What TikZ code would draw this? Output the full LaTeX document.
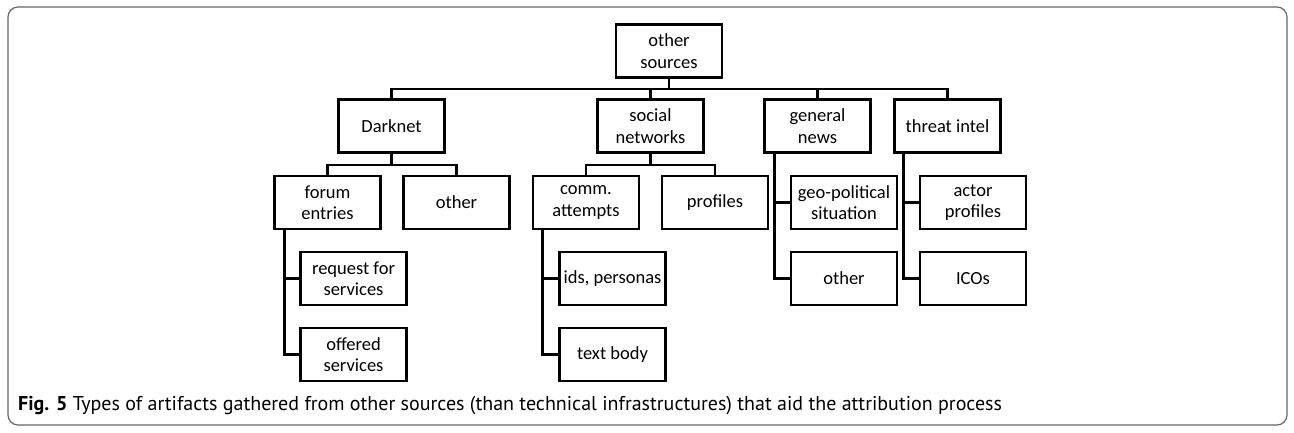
\documentclass[tikz,border=0pt]{standalone}
\usepackage{fontspec}
\setmainfont{Carlito}
\newfontfamily\capfont{PT Sans}
\usetikzlibrary{calc}
\begin{document}
\begin{tikzpicture}[x=1pt,y=-1pt,
  box/.style={draw=black,line width=2.6pt,minimum width=106pt,minimum height=53pt,inner sep=0pt,align=center,font=\fontsize{18.5}{21.5}\selectfont},
  con/.style={draw=black,line width=2.6pt}]
\useasboundingbox (0,0) rectangle (1294,432);
\draw[rounded corners=10pt,draw=black!60,line width=1.2pt] (8,7) rectangle (1287,425);
% nodes
\node[box] (root) at (669,51) {other\\sources};
\node[box] (dark) at (391.5,126) {Darknet};
\node[box] (soc) at (650.5,126) {social\\networks};
\node[box] (gen) at (817.5,126) {general\\news};
\node[box] (thr) at (947.5,126) {threat intel};
\node[box] (forum) at (327.5,202.5) {forum\\entries};
\node[box] (dother) at (456.5,202.5) {other};
\node[box] (comm) at (586,202.5) {comm.\\attempts};
\node[box] (prof) at (715,202.5) {profiles};
\node[box] (geo) at (844,202.5) {geo-political\\situation};
\node[box] (gother) at (844,278.5) {other};
\node[box] (actor) at (973,202.5) {actor\\profiles};
\node[box] (icos) at (973,278.5) {ICOs};
\node[box] (req) at (353.5,278.5) {request for\\services};
\node[box] (off) at (353.5,354.5) {offered\\services};
\node[box] (ids) at (612.5,278.5) {ids, personas};
\node[box] (body) at (612.5,354.5) {text body};
% connectors
\foreach \c in {dark,soc,gen,thr}
  \draw[con] (root.south) -- ++(0,10) -| (\c.north);
\foreach \c in {forum,dother}
  \draw[con] (dark.south) -- ++(0,11) -| (\c.north);
\foreach \c in {comm,prof}
  \draw[con] (soc.south) -- ++(0,11) -| (\c.north);
\foreach \c in {geo,gother}
  \draw[con] ([xshift=11pt]gen.south west) |- (\c.west);
\foreach \c in {actor,icos}
  \draw[con] ([xshift=10pt]thr.south west) |- (\c.west);
\foreach \c in {req,off}
  \draw[con] ([xshift=11pt]forum.south west) |- (\c.west);
\foreach \c in {ids,body}
  \draw[con] ([xshift=11pt]comm.south west) |- (\c.west);
% caption
\node[anchor=west,inner sep=0pt,font=\capfont\fontsize{20}{24}\selectfont] (cap) at (18,406)
  {\textbf{Fig. 5} Types of artifacts gathered from other sources (than technical infrastructures) that aid the attribution process};
\end{tikzpicture}
\end{document}
